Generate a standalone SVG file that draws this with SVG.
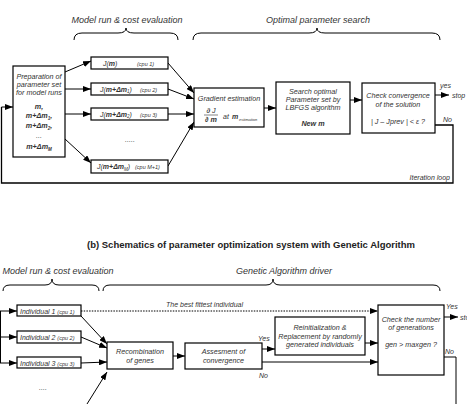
<svg xmlns="http://www.w3.org/2000/svg" width="467" height="404" viewBox="0 0 467 404">
<defs>
<marker id="ah" markerUnits="userSpaceOnUse" markerWidth="8" markerHeight="6" refX="8" refY="3" orient="auto"><path d="M0,0 L8,3 L0,6 z" fill="#000"/></marker>
<style>
text{font-family:"Liberation Sans",Arial,sans-serif;fill:#333;font-style:italic}
.t{font-size:7.2px;text-anchor:middle}
.h{font-size:9px;text-anchor:middle}
.s{font-size:5.5px}
.l{font-size:7px}
.b{font-weight:bold}
.title{font-size:9.5px;font-weight:bold;font-style:normal;fill:#222;text-anchor:middle}
.box{fill:#fff;stroke:#000;stroke-width:1.2}
.c{fill:none;stroke:#000;stroke-width:1}
.a{fill:none;stroke:#000;stroke-width:1;marker-end:url(#ah)}
.br{fill:none;stroke:#000;stroke-width:1}
</style>
</defs>
<rect width="467" height="404" fill="#fff"/>

<!-- headers -->
<text class="h" x="127" y="23">Model run &amp; cost evaluation</text>
<text class="h" x="318" y="23">Optimal parameter search</text>
<path class="br" d="M74,40 Q74,33 82,33 L118,33 Q126,33 126,28 Q126,33 134,33 L170,33 Q178,33 178,40"/>
<path class="br" d="M193,40 Q193,33 201,33 L309,33 Q317,33 317,28 Q317,33 325,33 L432,33 Q440,33 440,40"/>

<g id="connectors-top">
<path class="a" d="M65,72 L91,61"/>
<path class="a" d="M65,89 L91,89"/>
<path class="a" d="M65,114 L91,114"/>
<path class="a" d="M65,139 L91,163"/>
<path class="a" d="M168,63 L194,93"/>
<path class="a" d="M168,89 L194,99"/>
<path class="a" d="M168,114 L194,114"/>
<path class="a" d="M168,166 L194,122"/>
<path class="a" d="M264,108 L276,108"/>
<path class="a" d="M350,100 L362,100"/>
<path class="a" d="M435,95 L449,95"/>
<path class="c" style="stroke-width:1.3" d="M435,125 L453,125 L453,183 L1.5,183 L1.5,107"/>
<path class="a" d="M1.5,107 L13,107"/>
</g>

<g id="prep">
<rect class="box" x="13" y="66" width="52" height="91"/>
<text class="t" x="39" y="79">Preparation of</text>
<text class="t" x="39" y="87">parameter set</text>
<text class="t" x="39" y="95">for model runs</text>
<text class="t b" x="39" y="109">m,</text>
<text class="t b" x="39" y="118">m+Δm<tspan dy="1.5" font-size="4.5">1</tspan><tspan dy="-1.5">,</tspan></text>
<text class="t b" x="39" y="128">m+Δm<tspan dy="1.5" font-size="4.5">2</tspan><tspan dy="-1.5">,</tspan></text>
<text class="t" x="39" y="138">...</text>
<text class="t b" x="39" y="149">m+Δm<tspan dy="1.5" font-size="4.5">M</tspan></text>
</g>

<g id="cpu1">
<rect class="box" x="91" y="57" width="77" height="12"/>
<text class="l" x="103" y="65.5">J(<tspan class="b">m</tspan>)</text>
<text class="s" x="137" y="65.5">(cpu 1)</text>
</g>
<g id="cpu2">
<rect class="box" x="91" y="83" width="77" height="12"/>
<text class="l" x="100" y="91.5">J(<tspan class="b">m+Δm</tspan><tspan dy="1.5" font-size="4.5">1</tspan><tspan dy="-1.5">)</tspan></text>
<text class="s" x="140" y="91.5">(cpu 2)</text>
</g>
<g id="cpu3">
<rect class="box" x="91" y="108" width="77" height="12"/>
<text class="l" x="100" y="116.5">J(<tspan class="b">m+Δm</tspan><tspan dy="1.5" font-size="4.5">2</tspan><tspan dy="-1.5">)</tspan></text>
<text class="s" x="140" y="116.5">(cpu 3)</text>
</g>
<text class="t" x="130" y="142">.....</text>
<g id="cpu4">
<rect class="box" x="91" y="160" width="77" height="13"/>
<text class="l" x="97" y="169">J(<tspan class="b">m+Δm</tspan><tspan dy="1.5" font-size="4.5">M</tspan><tspan dy="-1.5">)</tspan></text>
<text class="s" x="135" y="169">(cpu M+1)</text>
</g>

<g id="gradient">
<rect class="box" x="194" y="88" width="70" height="39"/>
<text class="t" x="229" y="101">Gradient estimation</text>
<text class="t" x="211" y="112.5">∂ J</text>
<line x1="204" y1="115" x2="218" y2="115" stroke="#333" stroke-width="0.6"/>
<text class="t b" x="211" y="122">∂ m</text>
<text class="l" x="223" y="119">at</text>
<text class="l b" x="232" y="119">m</text>
<text font-size="4" x="239" y="121">estimation</text>
</g>

<g id="search">
<rect class="box" x="276" y="82" width="74" height="52"/>
<text class="t" x="313" y="94">Search optimal</text>
<text class="t" x="313" y="102">Parameter set by</text>
<text class="t" x="313" y="110">LBFGS algorithm</text>
<text class="t b" x="313" y="126">New m</text>
</g>

<g id="check1">
<rect class="box" x="362" y="83" width="73" height="50"/>
<text class="t" x="398" y="98">Check convergence</text>
<text class="t" x="398" y="107">of the solution</text>
<text class="t" x="398" y="124">| J – Jprev | &lt; ε ?</text>
</g>
<text class="l" x="440" y="88">yes</text>
<text class="l" x="452" y="98">stop</text>
<text class="l" x="443" y="122">No</text>
<text class="l" x="450" y="180" text-anchor="end">Iteration loop</text>

<!-- bottom -->
<text class="title" x="251" y="248">(b) Schematics of parameter optimization system with Genetic Algorithm</text>
<text class="h" x="58" y="274">Model run &amp; cost evaluation</text>
<text class="h" x="284" y="274">Genetic Algorithm driver</text>
<path class="br" d="M3,291 Q3,285 10,285 L45,285 Q52,285 52,279 Q52,285 59,285 L92,285 Q99,285 99,291"/>
<path class="br" d="M103,291 Q103,285 110,285 L266,285 Q273,285 273,279 Q273,285 280,285 L433,285 Q440,285 440,291"/>

<g id="connectors-bottom">
<path class="c" d="M0.5,311 L0.5,363"/>
<path class="a" d="M0,311 L17,311"/>
<path class="a" d="M0,337 L17,337"/>
<path class="a" d="M0,363 L17,363"/>
<path class="a" style="stroke-dasharray:1.5,1.2" d="M81,311 L378,311"/>
<path class="a" d="M81,316 L107,344"/>
<path class="a" d="M81,337 L107,348"/>
<path class="a" d="M81,363 L107,362"/>
<path class="a" d="M87,404 L107,372"/>
<path class="a" d="M173,356 L185,356"/>
<path class="a" d="M262,349 L275,349"/>
<path class="a" d="M262,362 L378,362"/>
<path class="a" d="M365,343 L378,343"/>
<path class="a" d="M444,317 L458,317"/>
<path class="c" d="M444,357 L456,357 L456,404"/>
</g>

<g id="ind1">
<rect class="box" x="17" y="305" width="64" height="11"/>
<text class="l" x="20" y="313.5">Individual 1 <tspan class="s">(cpu 1)</tspan></text>
</g>
<g id="ind2">
<rect class="box" x="17" y="331" width="64" height="12"/>
<text class="l" x="20" y="339.5">Individual 2 <tspan class="s">(cpu 2)</tspan></text>
</g>
<g id="ind3">
<rect class="box" x="17" y="357" width="64" height="11"/>
<text class="l" x="20" y="365.5">Individual 3 <tspan class="s">(cpu 3)</tspan></text>
</g>
<text class="t" x="43" y="390">....</text>

<g id="recomb">
<rect class="box" x="107" y="342" width="66" height="27"/>
<text class="t" x="140" y="354">Recombination</text>
<text class="t" x="140" y="363">of genes</text>
</g>
<g id="assess">
<rect class="box" x="185" y="343" width="77" height="26"/>
<text class="t" x="223.5" y="354">Assesment of</text>
<text class="t" x="223.5" y="363">convergence</text>
</g>
<text class="l" x="258" y="341">Yes</text>
<text class="l" x="259" y="378">No</text>

<g id="reinit">
<rect class="box" x="275" y="317" width="90" height="38"/>
<text class="t" x="320" y="330">Reinitialization &amp;</text>
<text class="t" x="320" y="338.5">Replacement by randomly</text>
<text class="t" x="320" y="347">generated individuals</text>
</g>

<g id="check2">
<rect class="box" x="378" y="305" width="66" height="70"/>
<text class="t" x="411" y="322">Check the number</text>
<text class="t" x="411" y="330">of generations</text>
<text class="t" x="411" y="347">gen &gt; maxgen ?</text>
</g>
<text class="l" x="166" y="307">The best fittest individual</text>
<text class="l" x="446" y="309">Yes</text>
<text class="l" x="460" y="320">stop</text>
<text class="l" x="445" y="354">No</text>
</svg>
